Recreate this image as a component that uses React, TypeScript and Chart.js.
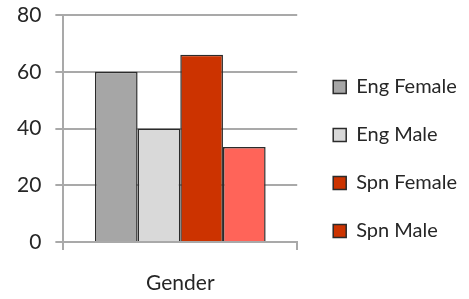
import React, { useEffect, useRef } from "react";
import { Chart, registerables } from "chart.js";

Chart.register(...registerables);

const categories = ["Gender"];
const seriesLabels = ["Eng Female", "Eng Male", "Spn Female", "Spn Male"];
const seriesValues = [[60], [40], [66], [33.5]];
const barColors = ["#a6a6a6", "#d9d9d9", "#cc3300", "#ff6459"];
const legendColors = ["#a6a6a6", "#d9d9d9", "#cc3300", "#cc3300"];
const yTicks = [0, 20, 40, 60, 80];

const FONT = "Lato";
const GRID = "#a9a9a9";
const TEXT = "#262626";

export default function App() {
  const ref = useRef<HTMLCanvasElement | null>(null);

  useEffect(() => {
    document.body.style.margin = "0";
    const canvas = ref.current;
    if (!canvas) return;
    const chart = new Chart(canvas, {
      type: "bar",
      data: {
        labels: categories,
        datasets: seriesLabels.map((label, i) => ({
          label,
          data: seriesValues[i],
          backgroundColor: barColors[i],
          borderColor: "#2b2b2b",
          borderWidth: 1.5,
          categoryPercentage: 0.73,
          barPercentage: 1,
        })),
      },
      options: {
        animation: false,
        responsive: false,
        maintainAspectRatio: false,
        layout: { padding: { top: 15, left: 3, right: 2, bottom: 4 } },
        scales: {
          x: {
            afterFit: (scale: any) => {
              scale.height = 53;
            },
            grid: {
              display: true,
              drawOnChartArea: false,
              drawTicks: true,
              tickLength: 8,
              color: GRID,
              lineWidth: 2,
              offset: true,
            },
            border: { display: true, color: GRID, width: 2 },
            ticks: {
              color: TEXT,
              padding: 21,
              font: { family: FONT, size: 21 },
            },
          },
          y: {
            min: yTicks[0],
            max: yTicks[yTicks.length - 1],
            afterBuildTicks: (scale: any) => {
              scale.ticks = yTicks.map((v) => ({ value: v }));
            },
            afterFit: (scale: any) => {
              scale.paddingTop = 0;
              scale.paddingBottom = 0;
            },
            grid: {
              color: GRID,
              lineWidth: 2,
              tickLength: 8,
            },
            border: { display: true, color: GRID, width: 2 },
            ticks: {
              color: TEXT,
              padding: 14,
              font: { family: FONT, size: 21 },
            },
          },
          y2: {
            position: "right",
            display: true,
            grid: { display: false, drawTicks: false },
            ticks: { display: false },
            border: { display: false },
            afterFit: (scale: any) => {
              scale.width = 8;
              scale.paddingTop = 0;
              scale.paddingBottom = 0;
            },
          },
        },
        plugins: {
          tooltip: { enabled: false },
          legend: {
            position: "right",
            maxWidth: 250,
            title: { display: true, text: "", font: { size: 8, lineHeight: 1 }, padding: 0 },
            labels: {
              color: TEXT,
              boxWidth: 13,
              boxHeight: 13,
              padding: 28,
              font: { family: FONT, size: 20 },
              generateLabels: (c: any) => {
                const items = Chart.defaults.plugins.legend.labels.generateLabels(c);
                items.forEach((it: any, i: number) => {
                  it.fillStyle = legendColors[i];
                  it.lineWidth = 1.5;
                });
                return items;
              },
            },
          },
        },
      },
    });
    return () => chart.destroy();
  }, []);

  return (
    <div style={{ width: 469, height: 299 }}>
      <canvas ref={ref} width={469} height={299} style={{ display: "block" }} />
    </div>
  );
}
